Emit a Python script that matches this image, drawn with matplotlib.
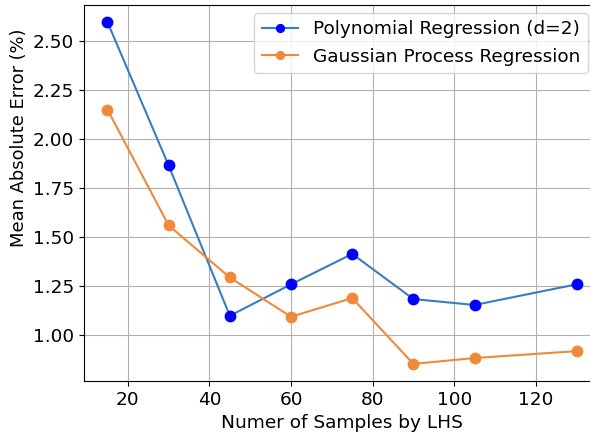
import matplotlib
matplotlib.use("Agg")
import matplotlib.pyplot as plt

samples = [15, 30, 45, 60, 75, 90, 105, 130]
poly_mae = [2.595, 1.865, 1.10, 1.26, 1.415, 1.185, 1.155, 1.26]
gpr_mae = [2.15, 1.56, 1.295, 1.095, 1.19, 0.855, 0.885, 0.92]
yticks = [1.00, 1.25, 1.50, 1.75, 2.00, 2.25, 2.50]

fs = 13.3

fig = plt.figure(figsize=(5.9, 4.34), dpi=100)
# right edge of the axes runs past the figure, like the cropped original
ax = fig.add_axes([84 / 590, 53 / 434, 516 / 590, 376 / 434])

ax.plot(samples, poly_mae, '-o', color='#3a7dbd', markerfacecolor='blue',
        markeredgecolor='blue', markersize=7.5, linewidth=1.5,
        label='Polynomial Regression (d=2)')
ax.plot(samples, gpr_mae, '-o', color='#f08a3a', markersize=7.5,
        linewidth=1.5, label='Gaussian Process Regression')

ax.set_yticks(yticks)
ax.set_xticks([20, 40, 60, 80, 100, 120])
ax.grid(True)
ax.tick_params(labelsize=fs)
ax.set_xlabel('Numer of Samples by LHS', fontsize=fs)
ax.set_ylabel('Mean Absolute Error (%)', fontsize=12.9)
# the original label sits above the axes centre
ax.yaxis.set_label_coords(-0.108, 0.647)
ax.legend(loc='upper right', fontsize=fs, markerscale=0.75, borderaxespad=0,
          bbox_to_anchor=(588 / 590, 1 - 13 / 434),
          bbox_transform=fig.transFigure)

fig.savefig('out.png', dpi=100)
